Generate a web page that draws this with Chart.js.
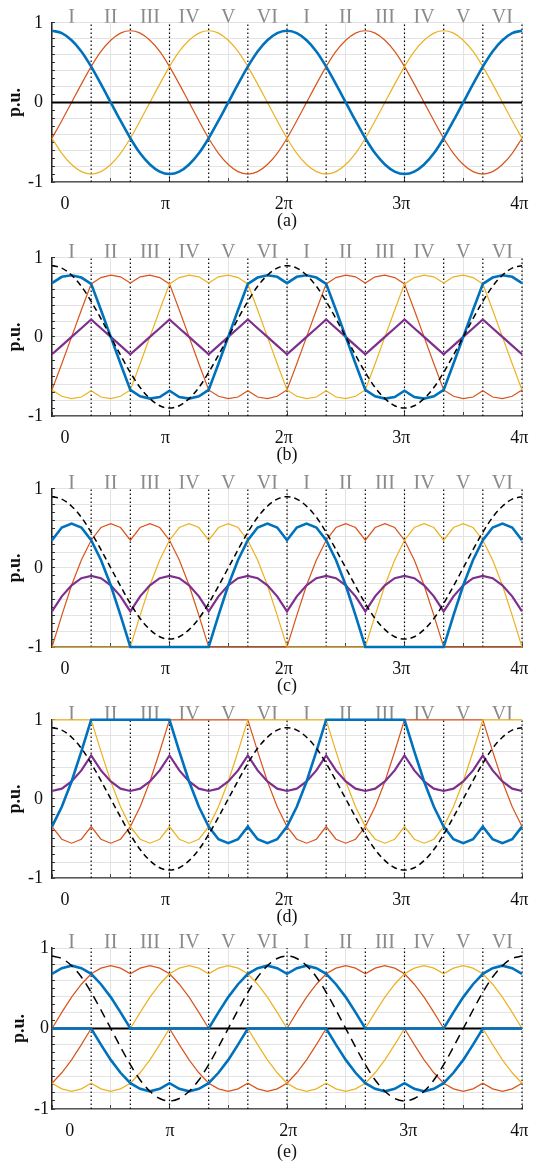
<!DOCTYPE html>
<html>
<head>
<meta charset="utf-8">
<script src="https://cdn.jsdelivr.net/npm/chart.js@4.4.1/dist/chart.umd.min.js"></script>
<style>
  html, body { margin: 0; padding: 0; background: #fff; }
  #wrap { position: relative; width: 537px; height: 1169px; overflow: hidden; background: #fff; }
  #wrap canvas { position: absolute; left: 0; }
</style>
</head>
<body>
<div id="wrap">
  <canvas id="ga" width="537" height="233" style="top:0px"></canvas>
  <canvas id="gb" width="537" height="232" style="top:235px"></canvas>
  <canvas id="gc" width="537" height="232" style="top:466px"></canvas>
  <canvas id="gd" width="537" height="232" style="top:697px"></canvas>
  <canvas id="ge" width="537" height="236" style="top:928px"></canvas>
</div>
<script>
// electrical angle in degrees, 0 .. 4π
const angle = [0,15,30,45,60,75,90,105,120,135,150,165,180,195,210,225,240,255,270,285,300,315,330,345,
  360,375,390,405,420,435,450,465,480,495,510,525,540,555,570,585,600,615,630,645,660,675,690,705,720];

const sectorNames = ['I', 'II', 'III', 'IV', 'V', 'VI'];
const sectorMid = [30, 90, 150, 210, 270, 330, 390, 450, 510, 570, 630, 690];
const sectorEdges = [60, 120, 180, 240, 300, 360, 420, 480, 540, 600, 660, 720];
const gridAngles = [0, 90, 180, 270, 360, 450, 540, 630, 720];
const xTickLabels = ['0', 'π', '2π', '3π', '4π'];
const yTicks = [-1,-0.9,-0.8,-0.7,-0.6,-0.5,-0.4,-0.3,-0.2,-0.1,0,0.1,0.2,0.3,0.4,0.5,0.6,0.7,0.8,0.9,1];
const yLabelled = [-1, 0, 1];
const yLabelText = ['-1', '0', '1'];
const zeroX = [0, 720];
const zeroY = [0, 0];

// reference (dashed) / phase A in (a)
const refWave = [0.9,0.87,0.78,0.64,0.45,0.23,0,-0.23,-0.45,-0.64,-0.78,-0.87,
  -0.9,-0.87,-0.78,-0.64,-0.45,-0.23,0,0.23,0.45,0.64,0.78,0.87,
  0.9,0.87,0.78,0.64,0.45,0.23,0,-0.23,-0.45,-0.64,-0.78,-0.87,
  -0.9,-0.87,-0.78,-0.64,-0.45,-0.23,0,0.23,0.45,0.64,0.78,0.87,0.9];

// (a)
const aRed = [-0.45,-0.23,0,0.23,0.45,0.64,0.78,0.87,0.9,0.87,0.78,0.64,
  0.45,0.23,0,-0.23,-0.45,-0.64,-0.78,-0.87,-0.9,-0.87,-0.78,-0.64,
  -0.45,-0.23,0,0.23,0.45,0.64,0.78,0.87,0.9,0.87,0.78,0.64,
  0.45,0.23,0,-0.23,-0.45,-0.64,-0.78,-0.87,-0.9,-0.87,-0.78,-0.64,-0.45];
const aYellow = [-0.45,-0.64,-0.78,-0.87,-0.9,-0.87,-0.78,-0.64,-0.45,-0.23,0,0.23,
  0.45,0.64,0.78,0.87,0.9,0.87,0.78,0.64,0.45,0.23,0,-0.23,
  -0.45,-0.64,-0.78,-0.87,-0.9,-0.87,-0.78,-0.64,-0.45,-0.23,0,0.23,
  0.45,0.64,0.78,0.87,0.9,0.87,0.78,0.64,0.45,0.23,0,-0.23,-0.45];

// (b)
const bBlue = [0.68,0.76,0.78,0.75,0.67,0.34,0,-0.34,-0.67,-0.75,-0.78,-0.76,
  -0.68,-0.76,-0.78,-0.75,-0.67,-0.34,0,0.34,0.67,0.75,0.78,0.76,
  0.68,0.76,0.78,0.75,0.67,0.34,0,-0.34,-0.67,-0.75,-0.78,-0.76,
  -0.68,-0.76,-0.78,-0.75,-0.67,-0.34,0,0.34,0.67,0.75,0.78,0.76,0.68];
const bRed = [-0.67,-0.34,0,0.34,0.67,0.75,0.78,0.76,0.68,0.76,0.78,0.75,
  0.67,0.34,0,-0.34,-0.67,-0.75,-0.78,-0.76,-0.68,-0.76,-0.78,-0.75,
  -0.67,-0.34,0,0.34,0.67,0.75,0.78,0.76,0.68,0.76,0.78,0.75,
  0.67,0.34,0,-0.34,-0.67,-0.75,-0.78,-0.76,-0.68,-0.76,-0.78,-0.75,-0.67];
const bYellow = [-0.67,-0.75,-0.78,-0.76,-0.68,-0.76,-0.78,-0.75,-0.67,-0.34,0,0.34,
  0.67,0.75,0.78,0.76,0.68,0.76,0.78,0.75,0.67,0.34,0,-0.34,
  -0.67,-0.75,-0.78,-0.76,-0.68,-0.76,-0.78,-0.75,-0.67,-0.34,0,0.34,
  0.67,0.75,0.78,0.76,0.68,0.76,0.78,0.75,0.67,0.34,0,-0.34,-0.67];
const bPurple = [-0.22,-0.11,0,0.11,0.22,0.11,0,-0.11,-0.22,-0.11,0,0.11,
  0.22,0.11,0,-0.11,-0.22,-0.11,0,0.11,0.22,0.11,0,-0.11,
  -0.22,-0.11,0,0.11,0.22,0.11,0,-0.11,-0.22,-0.11,0,0.11,
  0.22,0.11,0,-0.11,-0.22,-0.11,0,0.11,0.22,0.11,0,-0.11,-0.22];

// (c)
const cBlue = [0.35,0.51,0.56,0.51,0.35,0.1,-0.22,-0.6,-1,-1,-1,-1,
  -1,-1,-1,-1,-1,-0.6,-0.22,0.1,0.35,0.51,0.56,0.51,
  0.35,0.51,0.56,0.51,0.35,0.1,-0.22,-0.6,-1,-1,-1,-1,
  -1,-1,-1,-1,-1,-0.6,-0.22,0.1,0.35,0.51,0.56,0.51,0.35];
const cRed = [-1,-0.6,-0.22,0.1,0.35,0.51,0.56,0.51,0.35,0.51,0.56,0.51,
  0.35,0.1,-0.22,-0.6,-1,-1,-1,-1,-1,-1,-1,-1,
  -1,-0.6,-0.22,0.1,0.35,0.51,0.56,0.51,0.35,0.51,0.56,0.51,
  0.35,0.1,-0.22,-0.6,-1,-1,-1,-1,-1,-1,-1,-1,-1];
const cYellow = [-1,-1,-1,-1,-1,-1,-1,-1,-1,-0.6,-0.22,0.1,
  0.35,0.51,0.56,0.51,0.35,0.51,0.56,0.51,0.35,0.1,-0.22,-0.6,
  -1,-1,-1,-1,-1,-1,-1,-1,-1,-0.6,-0.22,0.1,
  0.35,0.51,0.56,0.51,0.35,0.51,0.56,0.51,0.35,0.1,-0.22,-0.6,-1];
const cPurple = [-0.55,-0.36,-0.22,-0.13,-0.1,-0.13,-0.22,-0.36,-0.55,-0.36,-0.22,-0.13,
  -0.1,-0.13,-0.22,-0.36,-0.55,-0.36,-0.22,-0.13,-0.1,-0.13,-0.22,-0.36,
  -0.55,-0.36,-0.22,-0.13,-0.1,-0.13,-0.22,-0.36,-0.55,-0.36,-0.22,-0.13,
  -0.1,-0.13,-0.22,-0.36,-0.55,-0.36,-0.22,-0.13,-0.1,-0.13,-0.22,-0.36,-0.55];

// (d)
const dBlue = [-0.35,-0.1,0.22,0.6,1,1,1,1,1,1,1,1,
  1,0.6,0.22,-0.1,-0.35,-0.51,-0.56,-0.51,-0.35,-0.51,-0.56,-0.51,
  -0.35,-0.1,0.22,0.6,1,1,1,1,1,1,1,1,
  1,0.6,0.22,-0.1,-0.35,-0.51,-0.56,-0.51,-0.35,-0.51,-0.56,-0.51,-0.35];
const dRed = [-0.35,-0.51,-0.56,-0.51,-0.35,-0.51,-0.56,-0.51,-0.35,-0.1,0.22,0.6,
  1,1,1,1,1,1,1,1,1,0.6,0.22,-0.1,
  -0.35,-0.51,-0.56,-0.51,-0.35,-0.51,-0.56,-0.51,-0.35,-0.1,0.22,0.6,
  1,1,1,1,1,1,1,1,1,0.6,0.22,-0.1,-0.35];
const dYellow = [1,1,1,1,1,0.6,0.22,-0.1,-0.35,-0.51,-0.56,-0.51,
  -0.35,-0.51,-0.56,-0.51,-0.35,-0.1,0.22,0.6,1,1,1,1,
  1,1,1,1,1,0.6,0.22,-0.1,-0.35,-0.51,-0.56,-0.51,
  -0.35,-0.51,-0.56,-0.51,-0.35,-0.1,0.22,0.6,1,1,1,1,1];
const dPurple = [0.1,0.13,0.22,0.36,0.55,0.36,0.22,0.13,0.1,0.13,0.22,0.36,
  0.55,0.36,0.22,0.13,0.1,0.13,0.22,0.36,0.55,0.36,0.22,0.13,
  0.1,0.13,0.22,0.36,0.55,0.36,0.22,0.13,0.1,0.13,0.22,0.36,
  0.55,0.36,0.22,0.13,0.1,0.13,0.22,0.36,0.55,0.36,0.22,0.13,0.1];

// (e)
const eBlueUp = [0.68,0.75,0.78,0.75,0.68,0.55,0.39,0.2,0,0,0,0,
  0,0,0,0,0,0.2,0.39,0.55,0.68,0.75,0.78,0.75,
  0.68,0.75,0.78,0.75,0.68,0.55,0.39,0.2,0,0,0,0,
  0,0,0,0,0,0.2,0.39,0.55,0.68,0.75,0.78,0.75,0.68];
const eBlueDown = [0,0,0,0,0,-0.2,-0.39,-0.55,-0.68,-0.75,-0.78,-0.75,
  -0.68,-0.75,-0.78,-0.75,-0.68,-0.55,-0.39,-0.2,0,0,0,0,
  0,0,0,0,0,-0.2,-0.39,-0.55,-0.68,-0.75,-0.78,-0.75,
  -0.68,-0.75,-0.78,-0.75,-0.68,-0.55,-0.39,-0.2,0,0,0,0,0];
const eRedUp = [0,0.2,0.39,0.55,0.68,0.75,0.78,0.75,0.68,0.75,0.78,0.75,
  0.68,0.55,0.39,0.2,0,0,0,0,0,0,0,0,
  0,0.2,0.39,0.55,0.68,0.75,0.78,0.75,0.68,0.75,0.78,0.75,
  0.68,0.55,0.39,0.2,0,0,0,0,0,0,0,0,0];
const eRedDown = [-0.68,-0.55,-0.39,-0.2,0,0,0,0,0,0,0,0,
  0,-0.2,-0.39,-0.55,-0.68,-0.75,-0.78,-0.75,-0.68,-0.75,-0.78,-0.75,
  -0.68,-0.55,-0.39,-0.2,0,0,0,0,0,0,0,0,
  0,-0.2,-0.39,-0.55,-0.68,-0.75,-0.78,-0.75,-0.68,-0.75,-0.78,-0.75,-0.68];
const eYellowUp = [0,0,0,0,0,0,0,0,0,0.2,0.39,0.55,
  0.68,0.75,0.78,0.75,0.68,0.75,0.78,0.75,0.68,0.55,0.39,0.2,
  0,0,0,0,0,0,0,0,0,0.2,0.39,0.55,
  0.68,0.75,0.78,0.75,0.68,0.75,0.78,0.75,0.68,0.55,0.39,0.2,0];
const eYellowDown = [-0.68,-0.75,-0.78,-0.75,-0.68,-0.75,-0.78,-0.75,-0.68,-0.55,-0.39,-0.2,
  0,0,0,0,0,0,0,0,0,-0.2,-0.39,-0.55,
  -0.68,-0.75,-0.78,-0.75,-0.68,-0.75,-0.78,-0.75,-0.68,-0.55,-0.39,-0.2,
  0,0,0,0,0,0,0,0,0,-0.2,-0.39,-0.55,-0.68];

const BLUE = '#0072BD', RED = '#D95319', YEL = '#EDB120', PUR = '#7E2F8E';
const SERIF = '"Liberation Serif", "Times New Roman", serif';
Chart.defaults.font.family = SERIF;

const pts = ys => ys.map((y, i) => ({ x: angle[i], y }));
// smooth = true only for curves with no corners (plain sinusoids)
const line = (ys, color, width, dash, smooth) => ({
  data: pts(ys), borderColor: color, borderWidth: width, borderDash: dash || [],
  pointRadius: 0, tension: 0, fill: false, clip: false,
  cubicInterpolationMode: smooth ? 'monotone' : 'default'
});
const refLine = dash => line(refWave, '#000', 1.5, dash, true);
const zeroLine = () => ({
  data: zeroY.map((y, i) => ({ x: zeroX[i], y })), borderColor: '#000', borderWidth: 2,
  pointRadius: 0, fill: false, clip: false
});
function sectorLines() {
  const d = [];
  sectorEdges.forEach(e => { d.push({ x: e, y: -1 }, { x: e, y: 1 }, { x: e, y: null }); });
  return { data: d, borderColor: '#000', borderWidth: 1.2, borderDash: [1.5, 2.5],
    pointRadius: 0, fill: false, clip: false, spanGaps: false };
}

// first entry is drawn on top
const panels = [
  { id: 'ga', caption: '(a)', labelAt: [20, 174, 355, 535, 716], yPad: 12, titlePad: 5, botH: 51,
    lines: [line(refWave, BLUE, 2.6, null, true), zeroLine(),
      line(aYellow, YEL, 1.2, null, true), line(aRed, RED, 1.2, null, true)] },
  { id: 'gb', caption: '(b)', labelAt: [20, 174, 355, 535, 716], yPad: 12, titlePad: 5, botH: 51,
    lines: [refLine([6, 4]), line(bBlue, BLUE, 2.6), line(bPurple, PUR, 2.2),
      line(bYellow, YEL, 1.2), line(bRed, RED, 1.2)] },
  { id: 'gc', caption: '(c)', labelAt: [20, 174, 355, 535, 716], yPad: 12, titlePad: 5, botH: 51,
    lines: [refLine([6, 4]), line(cBlue, BLUE, 2.6), line(cPurple, PUR, 2.2),
      line(cYellow, YEL, 1.2), line(cRed, RED, 1.2)] },
  { id: 'gd', caption: '(d)', labelAt: [20, 174, 355, 535, 716], yPad: 12, titlePad: 5, botH: 51,
    lines: [refLine([6, 4]), line(dBlue, BLUE, 2.6), line(dPurple, PUR, 2.2),
      line(dYellow, YEL, 1.2), line(dRed, RED, 1.2)] },
  { id: 'ge', caption: '(e)', labelAt: [27, 181, 362, 546, 716], yPad: 6, titlePad: 9, botH: 55,
    lines: [refLine([9, 6]), line(eBlueUp, BLUE, 2.6), line(eBlueDown, BLUE, 2.6),
      zeroLine(), line(eYellowUp, YEL, 1.2), line(eYellowDown, YEL, 1.2),
      line(eRedUp, RED, 1.2), line(eRedDown, RED, 1.2)] }
];

function makeChart(p) {
  const xTickVals = Array.from(new Set(gridAngles.concat(p.labelAt))).sort((a, b) => a - b);
  new Chart(document.getElementById(p.id), {
    type: 'line',
    data: { datasets: p.lines.concat([sectorLines()]) },
    options: {
      responsive: false, animation: false, events: [], devicePixelRatio: 1,
      layout: { padding: { left: 0, right: 11, top: 0, bottom: 0 } },
      plugins: { legend: { display: false }, tooltip: { enabled: false } },
      scales: {
        x: {
          type: 'linear', min: 0, max: 720,
          afterBuildTicks: s => { s.ticks = xTickVals.map(v => ({ value: v })); },
          afterFit: s => { s.height = p.botH; },
          grid: {
            color: c => (c.tick && c.tick.value % 90 === 0) ? '#e3e3e3' : 'rgba(0,0,0,0)',
            tickColor: c => (c.tick && c.tick.value % 90 === 0) ? '#444' : 'rgba(0,0,0,0)',
            tickLength: -4, lineWidth: 1
          },
          border: { color: '#595959', width: 1.5 },
          ticks: {
            autoSkip: false, maxRotation: 0, padding: 15, color: '#111',
            font: { family: SERIF, size: 18 },
            callback: v => { const i = p.labelAt.indexOf(v); return i < 0 ? '' : xTickLabels[i]; }
          },
          title: { display: true, text: p.caption, color: '#111', font: { family: SERIF, size: 18 },
            padding: { top: 0, bottom: 1 } }
        },
        x2: {
          type: 'linear', position: 'top', min: 0, max: 720,
          afterBuildTicks: s => { s.ticks = sectorMid.map(v => ({ value: v })); },
          afterFit: s => { s.height = 20; },
          grid: { display: false, drawTicks: false },
          border: { display: false },
          ticks: {
            autoSkip: false, maxRotation: 0, padding: -5, color: '#8a8a8a',
            font: { family: SERIF, size: 20, lineHeight: 1 },
            callback: (v, i) => sectorNames[i % 6]
          }
        },
        y: {
          min: -1, max: 1,
          afterBuildTicks: s => { s.ticks = yTicks.map(v => ({ value: v })); },
          afterFit: s => { s.width = 52; },
          grid: {
            color: c => (c.index % 2 === 0) ? '#e3e3e3' : 'rgba(0,0,0,0)',
            tickColor: '#333', tickLength: -3, lineWidth: 1
          },
          border: { color: '#262626', width: 1.5 },
          ticks: {
            autoSkip: false, padding: p.yPad, color: '#111',
            font: { family: SERIF, size: 18 },
            callback: v => { const i = yLabelled.indexOf(v); return i < 0 ? '' : yLabelText[i]; }
          },
          title: { display: true, text: 'p.u.', color: '#111',
            font: { family: SERIF, size: 18, weight: 'bold' }, padding: { top: p.titlePad, bottom: 0 } }
        }
      }
    }
  });
}

panels.forEach(makeChart);
</script>
</body>
</html>
